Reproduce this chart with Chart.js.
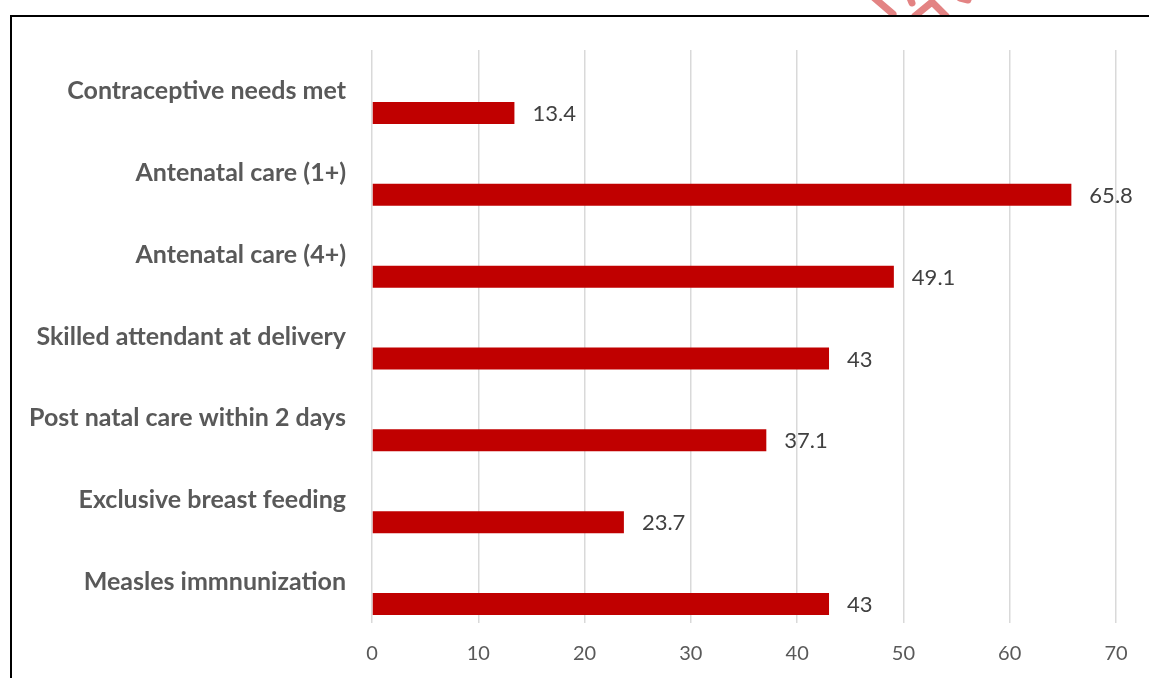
<!DOCTYPE html>
<html>
<head>
<meta charset="utf-8">
<script src="https://cdn.jsdelivr.net/npm/chart.js@4.4.1/dist/chart.umd.min.js"></script>
<style>
  html, body { margin: 0; padding: 0; background: #ffffff; }
  #wrap { position: relative; width: 1149px; height: 678px; }
</style>
</head>
<body>
<div id="wrap"><canvas id="chart" width="1149" height="678"></canvas></div>
<script>
// Maternal and child health coverage indicators (%)
const categories = [
  'Contraceptive needs met',
  'Antenatal care (1+)',
  'Antenatal care (4+)',
  'Skilled attendant at delivery',
  'Post natal care within 2 days',
  'Exclusive breast feeding',
  'Measles immnunization'
];
const coverage = [13.4, 65.8, 49.1, 43, 37.1, 23.7, 43];
// empty companion series: keeps each bar in the lower half of its row
const spacer = categories.map(() => null);
const xTicks = [0, 10, 20, 30, 40, 50, 60, 70];

const FONT = 'Lato, "Open Sans", "DejaVu Sans", sans-serif';

// value labels to the right of each bar end
const valueLabels = {
  id: 'valueLabels',
  afterDatasetsDraw(chart) {
    const ctx = chart.ctx;
    const meta = chart.getDatasetMeta(1);
    ctx.save();
    ctx.font = '22px ' + FONT;
    ctx.fillStyle = '#404040';
    ctx.textAlign = 'left';
    ctx.textBaseline = 'middle';
    meta.data.forEach((bar, i) => {
      ctx.fillText(String(coverage[i]), bar.x + 18, bar.y + 1);
    });
    ctx.restore();
  }
};

// outer frame line plus the partly visible stamp above it
const frame = {
  id: 'frame',
  beforeDraw(chart) {
    const ctx = chart.ctx;
    ctx.save();
    ctx.beginPath();
    ctx.rect(0, 0, chart.width, 15);
    ctx.clip();
    ctx.strokeStyle = '#E38383';
    ctx.lineCap = 'round';
    ctx.lineWidth = 7;
    ctx.beginPath(); ctx.moveTo(872, -4); ctx.lineTo(893, 14); ctx.stroke();
    ctx.beginPath(); ctx.moveTo(910, -2); ctx.lineTo(912, 3); ctx.stroke();
    ctx.beginPath(); ctx.moveTo(915, 16); ctx.lineTo(932, 2); ctx.lineTo(946, 16); ctx.stroke();
    ctx.beginPath(); ctx.moveTo(960, -2); ctx.lineTo(968, 0); ctx.stroke();
    ctx.restore();
  },
  afterDraw(chart) {
    const ctx = chart.ctx;
    ctx.save();
    ctx.strokeStyle = '#000000';
    ctx.lineWidth = 2;
    ctx.beginPath();
    ctx.moveTo(11, chart.height + 2);
    ctx.lineTo(11, 16);
    ctx.lineTo(chart.width + 2, 16);
    ctx.stroke();
    ctx.restore();
  }
};

new Chart(document.getElementById('chart'), {
  type: 'bar',
  data: {
    labels: categories,
    datasets: [
      { data: spacer, backgroundColor: 'rgba(0,0,0,0)' },
      { data: coverage, backgroundColor: '#C00000', borderWidth: 0 }
    ]
  },
  options: {
    indexAxis: 'y',
    responsive: false,
    animation: false,
    devicePixelRatio: 1,
    categoryPercentage: 1.075,
    barPercentage: 0.5,
    layout: { padding: { top: 50, right: 33, bottom: 0, left: 0 } },
    plugins: {
      legend: { display: false },
      tooltip: { enabled: false }
    },
    scales: {
      x: {
        min: 0,
        max: 70,
        afterBuildTicks(scale) { scale.ticks = xTicks.map(v => ({ value: v })); },
        afterFit(scale) { scale.height = 55; },
        grid: { color: '#D9D9D9', lineWidth: 1.5, drawTicks: false },
        border: { display: false },
        ticks: {
          padding: 19,
          color: '#595959',
          font: { family: FONT, size: 20 }
        }
      },
      y: {
        afterFit(scale) { scale.width = 372; },
        grid: { display: false, drawTicks: false },
        border: { display: false },
        ticks: {
          padding: 26,
          color: '#595959',
          font: { family: FONT, size: 25, weight: 'bold' }
        }
      }
    }
  },
  plugins: [valueLabels, frame]
});
</script>
</body>
</html>
